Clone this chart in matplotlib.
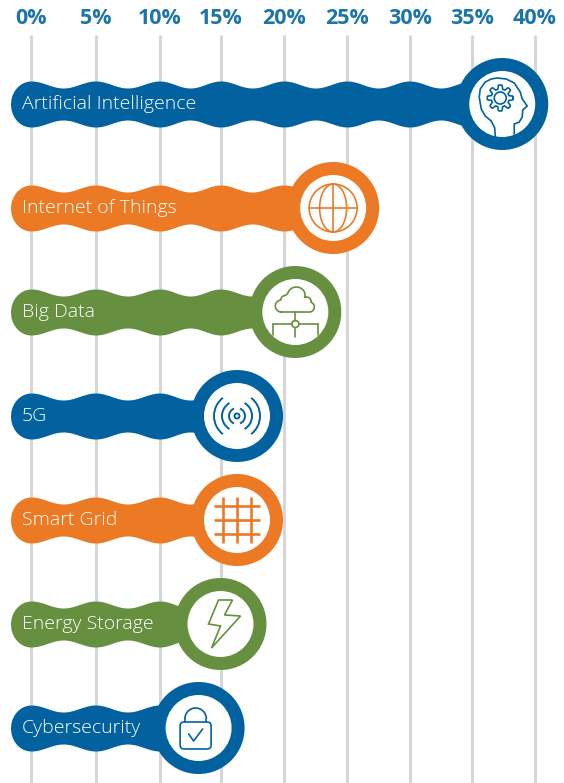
import numpy as np
import matplotlib
matplotlib.use("Agg")
import matplotlib.pyplot as plt
from matplotlib.patches import Circle, Ellipse, Arc, Polygon, FancyBboxPatch
from matplotlib.transforms import Affine2D

categories = ["Artificial Intelligence", "Internet of Things", "Big Data", "5G",
              "Smart Grid", "Energy Storage", "Cybersecurity"]
values = [37.4, 23.9, 20.9, 16.3, 16.3, 15.0, 13.2]
kinds = ["blue", "orange", "green", "blue", "orange", "green", "blue"]
icons = ["head", "globe", "cloud", "signal", "grid", "bolt", "lock"]
ticks = [0, 5, 10, 15, 20, 25, 30, 35, 40]
tick_labels = ["0%", "5%", "10%", "15%", "20%", "25%", "30%", "35%", "40%"]
colors = {"blue": "#0262a0", "orange": "#ec7a25", "green": "#66903f"}
tick_color = "#1b75a8"
grid_color = "#d6d6d6"

W, H = 564, 783
fig = plt.figure(figsize=(W / 100, H / 100), dpi=100)
ax = fig.add_axes([0, 0, 1, 1])
Y0, ROW = 104, 104

# The source infographic spaces its gridlines slightly unevenly: calibrate the x scale to it.
knots_v = np.array([-100, 0, 5, 10, 15, 20, 25, 30, 35, 40, 140], dtype=float)
knots_p = np.array([31 - 1260, 31, 95.5, 159.7, 220.5, 284, 347, 409.6, 472, 535, 535 + 1260], dtype=float)
to_px = lambda v: np.interp(v, knots_v, knots_p)
to_val = lambda p: np.interp(p, knots_p, knots_v)
ax.set_xscale("function", functions=(to_px, to_val))
ax.set_xlim(float(to_val(0.0)), float(to_val(float(W))))
ax.set_ylim((H - Y0) / ROW, -Y0 / ROW)
ax.axis("off")

for t, lab in zip(ticks, tick_labels):
    ax.plot([t, t], [(35 - Y0) / ROW, (H - Y0) / ROW], color=grid_color, lw=2.2,
            solid_capstyle="butt", zorder=1)
    ax.text(t, (19 - Y0) / ROW, lab, color=tick_color, ha="center", va="center",
            fontsize=15.5, fontweight="bold", family="Open Sans", zorder=5)


def half_height(x):
    peak, waist = 23.0, 16.0
    mid, amp = (peak + waist) / 2, (peak - waist) / 2
    return mid + amp * np.cos(2 * np.pi * x / 5)


def local(i, v):
    px, py = ax.transData.transform((v, i))
    return Affine2D().scale(1, -1).translate(px, py)


def arc_pts(cx, cy, r, a1, a2):
    a = np.radians(np.linspace(a1, a2, 24))
    return cx + r * np.cos(a), cy + r * np.sin(a)


def draw_icon(name, tr, c):
    lw = 1.2
    kw = dict(color=c, lw=lw, transform=tr, zorder=6, solid_capstyle="round")
    pk = dict(fill=False, edgecolor=c, lw=lw, transform=tr, zorder=6)
    L = lambda xs, ys, **o: ax.plot(xs, ys, **{**kw, **o})
    if name == "globe":
        ax.add_patch(Circle((0, 0), 24, **pk))
        ax.add_patch(Ellipse((0, 0), 27, 48, **pk))
        L([-24, 24], [0, 0]); L([0, 0], [-24, 24])
    elif name == "grid":
        for d in (-14, 0, 14):
            L([d, d], [-23, 23], lw=1.9, solid_capstyle="butt")
            L([-23, 23], [d, d], lw=1.9, solid_capstyle="butt")
    elif name == "signal":
        ax.add_patch(Circle((0, 0), 2.5, **{**pk, "lw": 1.4}))
        for r, a in ((8, 68), (15, 60), (23, 52)):
            ax.add_patch(Arc((0, 0), 2 * r, 2 * r, theta1=-a, theta2=a, **{**pk, "lw": 1.4}))
            ax.add_patch(Arc((0, 0), 2 * r, 2 * r, theta1=180 - a, theta2=180 + a, **{**pk, "lw": 1.4}))
    elif name == "bolt":
        pts = [(-2, -24), (12, -24), (4, -9), (20, -8), (-9, 24), (0, 2), (-12, 0)]
        ax.add_patch(Polygon(pts, closed=True, **pk))
    elif name == "lock":
        ax.add_patch(FancyBboxPatch((-18.5, -6), 31, 27, boxstyle="round,pad=0,rounding_size=4", **pk))
        ax.add_patch(Arc((-3, -9), 21.5, 22, theta1=180, theta2=360, **pk))
        L([-13.7, -13.7], [-9, -6]); L([7.7, 7.7], [-9, -6])
        L([-10, -5, 4], [6, 13, 1])
    elif name == "cloud":
        parts = [arc_pts(-14, -6, 6, 90, 250), arc_pts(-10, -12, 4.5, 180, 270),
                 arc_pts(1, -16, 9, 195, 345), arc_pts(11, -10, 5, 250, 340),
                 arc_pts(14, -5, 5, -70, 90)]
        cx = np.concatenate([p[0] for p in parts] + [[-14]])
        cy = np.concatenate([p[1] for p in parts] + [[0]])
        L(cx, cy)
        L([0, 0], [0, 8.5]); L([0, 0], [15.5, 25])
        L([-22, -3.5], [12, 12]); L([3.5, 23], [12, 12])
        L([-22, -22], [12, 23]); L([23, 23], [12, 23])
        ax.add_patch(Circle((0, 12), 3.5, **pk))
    elif name == "head":
        hx = [-7, -7.5, -11, -17, -21, -23, -22, -17, -11, -5, 4, 12, 18, 20, 25, 20.5, 20, 17, 12, 12]
        hy = [32, 24, 17, 12, 5, -7, -15, -22, -25, -26, -25, -21, -12, -5, 2, 6, 13, 18, 20, 30]
        L(hx, hy, solid_joinstyle="round")
        gx, gy = -2, -6
        ax.add_patch(Circle((gx, gy), 6, **pk))
        ang = np.linspace(0, 2 * np.pi, 161)
        rad = 11 + 2 * np.clip(2.2 * np.cos(8 * ang), -1, 1)
        L(gx + rad * np.cos(ang), gy + rad * np.sin(ang), solid_joinstyle="round")


CAP_PX = 21
cap_len = CAP_PX * 5 / (knots_p[2] - knots_p[1])
for i, (name, v, k, icon) in enumerate(zip(categories, values, kinds, icons)):
    c = colors[k]
    cap = np.linspace(-cap_len, 0, 60, endpoint=False)
    body = np.linspace(0, v, 600)
    hc = 23.0 * np.sqrt(np.clip(1 - (cap / cap_len) ** 2, 0, 1))
    xs = np.concatenate([cap, body])
    hs = np.concatenate([hc, half_height(body)]) / ROW
    ax.fill_between(xs, i - hs, i + hs, color=c, lw=0, zorder=3)
    tr = local(i, v)
    ax.add_patch(Circle((0, 0), 46, facecolor=c, edgecolor="none", transform=tr, zorder=4))
    ax.add_patch(Circle((0, 0), 33, facecolor="white", edgecolor="none", transform=tr, zorder=5))
    draw_icon(icon, tr, c)
    ax.text(float(to_val(22.0)), i, name, color="white", ha="left", va="center",
            fontsize=14, family="Open Sans", fontweight="light", zorder=6)

fig.savefig("out.png", dpi=100)
